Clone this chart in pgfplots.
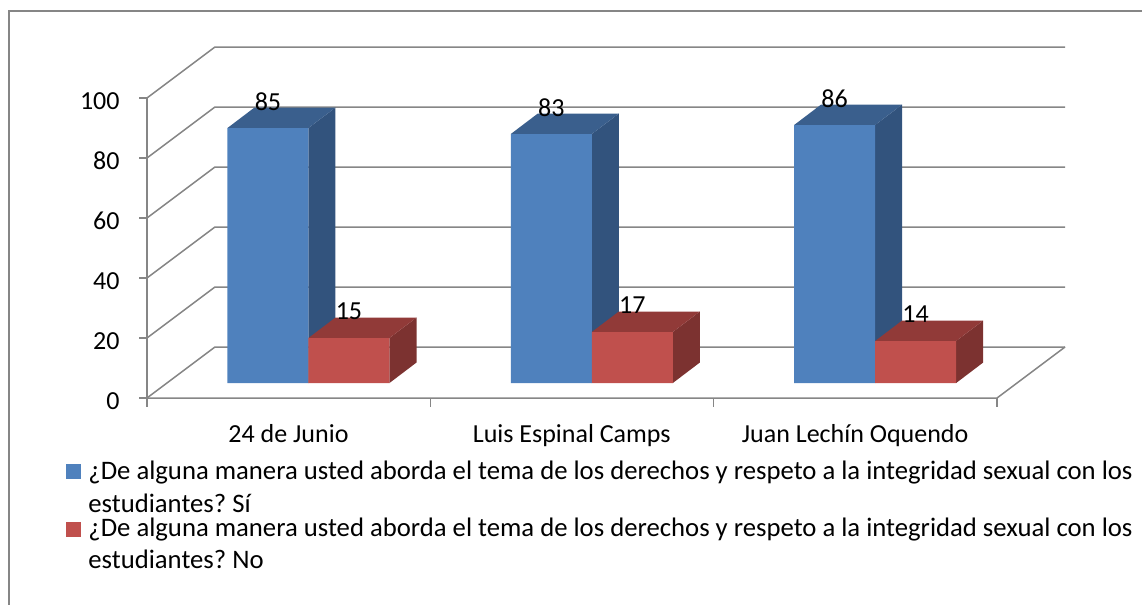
\documentclass[border=0pt]{standalone}
\usepackage{fontspec}
\setmainfont{Carlito}
\usepackage{pgfplots}
\pgfplotsset{compat=1.18}
\frenchspacing

\definecolor{bluefront}{RGB}{79,129,189}
\definecolor{bluetop}{RGB}{58,95,141}
\definecolor{blueside}{RGB}{50,83,125}
\definecolor{redfront}{RGB}{192,80,77}
\definecolor{redtop}{RGB}{145,58,56}
\definecolor{redside}{RGB}{124,50,48}
\definecolor{wallgray}{RGB}{134,134,134}

\tikzset{wall/.style={draw=wallgray, line width=0.75pt}}

\newcommand{\chartfont}{\fontsize{13pt}{15.6pt}\selectfont}
\newcommand{\legendfont}{\fontsize{13.35pt}{16pt}\selectfont}

\pgfplotsset{
  valuelabels/.style={
    nodes near coords={\pgfmathprintnumber[assume math mode=true]{\pgfplotspointmeta}},
    every node near coord/.append style={anchor=base, inner sep=0pt, font=\chartfont,
      text=black, #1},
  },
}

% top and side faces of one 3D bar
% #1 left x, #2 right x, #3 value, #4 colour prefix
\newcommand{\barfaces}[4]{%
  \pgfmathsetmacro{\xc}{#1+0.0953}%
  \pgfmathsetmacro{\xd}{#2+0.0953}%
  \pgfmathsetmacro{\yt}{#3+6.83}%
  \addplot[draw=none, fill=#4side] coordinates {(#2,0) (#2,#3) (\xd,\yt) (\xd,6.83)} -- cycle;
  \addplot[draw=none, fill=#4top] coordinates {(#1,#3) (#2,#3) (\xd,\yt) (\xc,\yt)} -- cycle;
}

\begin{document}
\begin{tikzpicture}[font=\chartfont]
\begin{axis}[
  x=141.667pt, y=1.5pt,
  xmin=-0.570, xmax=2.670,
  ymin=-5, ymax=112,
  clip=false,
  axis line style={draw=none},
  tick style={draw=none},
  major tick length=0pt,
  xtick={-0.0706,0.9294,1.9294},
  xticklabels={24 de Junio, Luis Espinal Camps, Juan Lechín Oquendo},
  ytick={-5,15,35,55,75,95},
  yticklabels={0,20,40,60,80,100},
  tick label style={font=\chartfont},
  xticklabel style={anchor=base, inner sep=0pt, yshift=-22pt},
  yticklabel style={anchor=east, inner sep=0pt, xshift=-13.5pt, yshift=-1.5pt},
]
% chart area border
\draw[wall] (axis cs:3.2,124) -- (axis cs:-1.0571,124) -- (axis cs:-1.0571,-95);

% back wall grid and left wall
\draw[wall] (axis cs:-0.570,-5) -- (axis cs:-0.330,12) -- (axis cs:2.670,12);
\draw[wall] (axis cs:-0.570,15) -- (axis cs:-0.330,32) -- (axis cs:2.670,32);
\draw[wall] (axis cs:-0.570,35) -- (axis cs:-0.330,52) -- (axis cs:2.670,52);
\draw[wall] (axis cs:-0.570,55) -- (axis cs:-0.330,72) -- (axis cs:2.670,72);
\draw[wall] (axis cs:-0.570,75) -- (axis cs:-0.330,92) -- (axis cs:2.670,92);
\draw[wall] (axis cs:-0.570,95) -- (axis cs:-0.330,112) -- (axis cs:2.670,112);
\draw[wall] (axis cs:-0.570,-5) -- (axis cs:-0.570,95);
% floor
\draw[wall] (axis cs:-0.570,-5) -- (axis cs:2.430,-5) -- (axis cs:2.670,12);
% tick marks
\draw[wall] (axis cs:-0.570,-5) -- (axis cs:-0.598,-5);
\draw[wall] (axis cs:-0.570,15) -- (axis cs:-0.598,15);
\draw[wall] (axis cs:-0.570,35) -- (axis cs:-0.598,35);
\draw[wall] (axis cs:-0.570,55) -- (axis cs:-0.598,55);
\draw[wall] (axis cs:-0.570,75) -- (axis cs:-0.598,75);
\draw[wall] (axis cs:-0.570,95) -- (axis cs:-0.598,95);
\draw[wall] (axis cs:-0.570,-5) -- (axis cs:-0.570,-8);
\draw[wall] (axis cs:0.430,-5) -- (axis cs:0.430,-8);
\draw[wall] (axis cs:1.430,-5) -- (axis cs:1.430,-8);
\draw[wall] (axis cs:2.430,-5) -- (axis cs:2.430,-8);

% Sí series
\barfaces{-0.2859}{0}{85}{blue}
\barfaces{0.7141}{1}{83}{blue}
\barfaces{1.7141}{2}{86}{blue}
\addplot[ybar, bar width=40.5pt, bar shift=-20.25pt, draw=none, fill=bluefront,
  valuelabels={xshift=-20.25pt, yshift=9pt}]
  coordinates {(0,85) (1,83) (2,86)};

% No series
\barfaces{0}{0.2859}{15}{red}
\barfaces{1}{1.2859}{17}{red}
\barfaces{2}{2.2859}{14}{red}
\addplot[ybar, bar width=40.5pt, bar shift=20.25pt, draw=none, fill=redfront,
  valuelabels={xshift=20.25pt, yshift=9.5pt}]
  coordinates {(0,15) (1,17) (2,14)};

% legend
\fill[bluefront] (axis cs:-0.8559,-27) rectangle (axis cs:-0.8030,-32);
\fill[redfront] (axis cs:-0.8559,-46.33) rectangle (axis cs:-0.8030,-51.33);
\begin{scope}[every node/.style={anchor=base west, inner sep=0pt, font=\legendfont}]
\node at (axis cs:-0.7782,-32.33)
  {¿De alguna manera usted aborda el tema de los derechos y respeto a la integridad sexual con los};
\node at (axis cs:-0.7782,-43.33) {estudiantes? Sí};
\node at (axis cs:-0.7782,-51.33)
  {¿De alguna manera usted aborda el tema de los derechos y respeto a la integridad sexual con los};
\node at (axis cs:-0.7782,-61.67) {estudiantes? No};
\end{scope}

\coordinate (imgtl) at (axis cs:-1.0888,127.67);
\coordinate (imgbr) at (axis cs:2.9418,-73.67);
\end{axis}
\pgfresetboundingbox
\path[use as bounding box] (imgtl) rectangle (imgbr);
\end{tikzpicture}
\end{document}
